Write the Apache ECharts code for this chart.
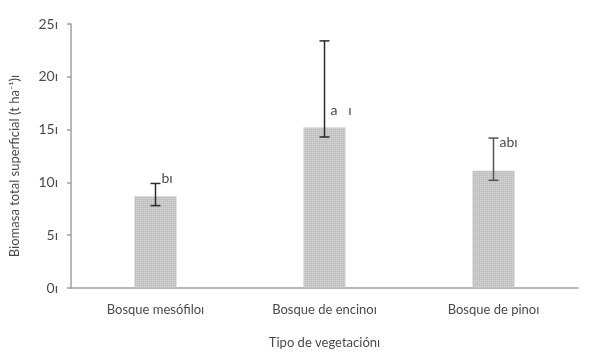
<!DOCTYPE html>
<html>
<head>
<meta charset="utf-8">
<style>
  html, body { margin: 0; padding: 0; background: #fff; }
  #chart { width: 589px; height: 354px; }
</style>
<script src="https://cdn.jsdelivr.net/npm/echarts@6/dist/echarts.min.js"></script>
</head>
<body>
<div id="chart"></div>
<script>
document.addEventListener('DOMContentLoaded', function() {

    // values
    const categories = ['Bosque mesófiloı', 'Bosque de encinoı', 'Bosque de pinoı'];
    const biomass = [8.7, 15.2, 11.1];
    const errLow = [7.8, 14.3, 10.2];
    const errHigh = [9.9, 23.4, 14.2];
    const letters = ['bı', 'a   ı', 'abı'];
    const letterAt = [10.4, 16.8, 13.8]; // height of the letter labels, in t/ha
    const yTicks = [0, 5, 10, 15, 20, 25];

    const font = 'Lato';
    const textColor = '#4a4a4a';
    const axisColor = '#a0a0a0';

    const chart = echarts.init(document.getElementById('chart'));

    const errorBars = (params, api) => {
        const i = params.dataIndex;
        const top = api.coord([i, errHigh[i]]);
        const bottom = api.coord([i, errLow[i]]);
        const cap = 5;
        const style = { stroke: i === 2 ? '#555' : '#2a2a2a', lineWidth: 1.5 };
        const lbl = api.coord([i, letterAt[i]]);
        return {
            type: 'group',
            children: [
                { type: 'line', shape: { x1: top[0], y1: top[1], x2: bottom[0], y2: bottom[1] }, style },
                { type: 'line', shape: { x1: top[0] - cap, y1: top[1], x2: top[0] + cap, y2: top[1] }, style },
                { type: 'line', shape: { x1: bottom[0] - cap, y1: bottom[1], x2: bottom[0] + cap, y2: bottom[1] }, style },
                {
                    type: 'text',
                    x: top[0] + 6,
                    y: lbl[1],
                    style: {
                        text: letters[i],
                        fill: textColor,
                        font: '14px ' + font,
                        verticalAlign: 'middle'
                    }
                }
            ]
        };
    };

    chart.setOption({
        animation: false,
        textStyle: { fontFamily: font },
        grid: {
            left: 71,
            right: 11,
            top: 24,
            bottom: 64
        },
        xAxis: {
            type: 'category',
            data: categories,
            name: 'Tipo de vegetaciónı',
            nameLocation: 'middle',
            nameGap: 48,
            nameTextStyle: { color: textColor, fontSize: 13, fontFamily: font },
            axisLine: { lineStyle: { color: axisColor, width: 1.5 } },
            axisTick: { show: false },
            axisLabel: { color: textColor, fontSize: 13, margin: 15, fontFamily: font }
        },
        yAxis: {
            type: 'value',
            min: yTicks[0],
            max: yTicks[yTicks.length - 1],
            interval: yTicks[1] - yTicks[0],
            name: 'Biomasa total superficial (t ha⁻¹)ı',
            nameLocation: 'middle',
            nameGap: 50,
            nameTextStyle: { color: textColor, fontSize: 13, fontFamily: font, padding: [0, 20, 0, 0] },
            axisLine: { show: true, lineStyle: { color: axisColor, width: 1.5 } },
            axisTick: { show: true, length: 4, lineStyle: { color: axisColor, width: 1.5 } },
            splitLine: { show: false },
            axisLabel: {
                color: textColor,
                fontSize: 14,
                margin: 13,
                fontFamily: font,
                formatter: v => v + 'ı'
            }
        },
        series: [{
            type: 'bar',
            data: biomass,
            barWidth: 42,
            itemStyle: {
                color: '#c2c2c2',
                decal: {
                    symbol: 'rect',
                    symbolSize: 1,
                    dashArrayX: [1, 1],
                    dashArrayY: [1, 1],
                    color: 'rgba(255,255,255,0.35)'
                }
            },
            z: 2
        }, {
            type: 'custom',
            data: biomass,
            renderItem: errorBars,
            z: 3
        }]
    });

});
</script>
</body>
</html>
